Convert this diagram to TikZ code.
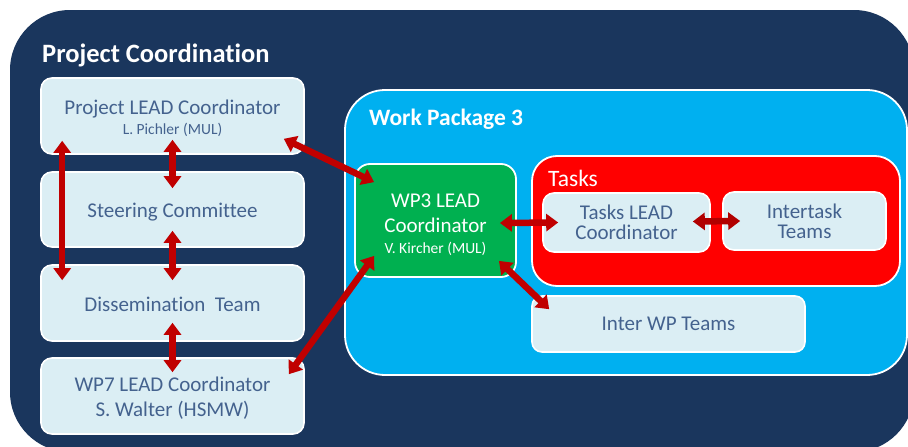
\documentclass[tikz,border=0pt]{standalone}
\usepackage{fontspec}
\setmainfont{Carlito}[Ligatures=NoCommon]
\usetikzlibrary{arrows.meta}
\definecolor{navy}{HTML}{1A365D}
\definecolor{wpblue}{HTML}{00B0F0}
\definecolor{grn}{HTML}{00B050}
\definecolor{lbox}{HTML}{DBEEF4}
\definecolor{btxt}{HTML}{44628E}
\definecolor{arr}{HTML}{C00000}
\tikzset{
  lightbox/.style={draw=white, line width=1.6pt, fill=lbox, rounded corners=11pt, text=btxt, align=center, inner sep=0pt},
  bigtxt/.style={font=\fontsize{21}{23}\selectfont},
  biarrow/.style={draw=arr, line width=6.5pt, {Triangle[width=17pt,length=12pt]}-{Triangle[width=17pt,length=12pt]}},
}
\begin{document}
\begin{tikzpicture}[x=1pt,y=-1pt]
\useasboundingbox (0,0) rectangle (908,447);
\begin{scope}
\clip (0,0) rectangle (908,447);
\fill[white] (0,0) rectangle (908,447);
\fill[navy, rounded corners=60pt] (10,10) rectangle (914,452);
\end{scope}
\node[anchor=base west, inner sep=0pt, text=white, font=\fontsize{26.5}{30}\selectfont\bfseries] (pctitle) at (42,62) {Project Coordination};

% left column
\node[lightbox, minimum width=263pt, minimum height=76pt, bigtxt] (plc) at (172.5,116)
  {\rule{0pt}{19.5pt}Project LEAD Coordinator\\[-3pt]{\fontsize{15.5}{17}\selectfont L. Pichler (MUL)}};
\node[lightbox, minimum width=263pt, minimum height=75pt, bigtxt] (sc) at (172.5,209.5) {\rule{0pt}{19pt}Steering Committee};
\node[lightbox, minimum width=263pt, minimum height=76pt, bigtxt] (dt) at (172.5,303) {\rule{0pt}{18pt}Dissemination\ \ Team};
\node[lightbox, minimum width=263pt, minimum height=76pt, font=\fontsize{21}{25}\selectfont] (wp7) at (172.5,396)
  {\rule{0pt}{18pt}WP7 LEAD Coordinator\\S. Walter (HSMW)};

% work package 3
\node[draw=white, line width=1.8pt, fill=wpblue, rounded corners=40pt, minimum width=562pt, minimum height=285pt, inner sep=0pt] (wp3) at (626,232.5) {};
\node[anchor=base west, inner sep=0pt, text=white, font=\fontsize{23.5}{27}\selectfont\bfseries] (wp3title) at (369,125) {Work Package 3};

\node[draw=white, line width=1.8pt, fill=grn, rounded corners=15pt, minimum width=161pt, minimum height=113pt, inner sep=0pt, text=white, align=center, font=\fontsize{21}{25}\selectfont] (green) at (435.5,220.5)
  {\rule{0pt}{22pt}WP3 LEAD\\Coordinator\\[-4pt]{\fontsize{15.5}{17}\selectfont V. Kircher (MUL)}};

\node[draw=white, line width=1.8pt, fill=red, rounded corners=25pt, minimum width=368pt, minimum height=130pt, inner sep=0pt] (tasks) at (716,221) {};
\node[anchor=base west, inner sep=0pt, text=white, font=\fontsize{23.5}{27}\selectfont] (taskstitle) at (548,186) {Tasks};

\node[lightbox, minimum width=167pt, minimum height=59pt, font=\fontsize{21}{20}\selectfont] (tl) at (626.5,222.5) {Tasks LEAD\\Coordinator};
\node[lightbox, minimum width=163pt, minimum height=58pt, font=\fontsize{21}{20}\selectfont] (it) at (804.5,221) {Intertask\\Teams};
\node[lightbox, rounded corners=10pt, minimum width=273pt, minimum height=56pt, bigtxt] (iwp) at (668.5,324) {Inter WP Teams};

% arrows
\draw[biarrow] ([shift={(22pt,14pt)}]plc.south west) -- ([shift={(22pt,-16pt)}]dt.north west);
\draw[biarrow] ([yshift=15pt]plc.south) -- ([yshift=-17pt]sc.north);
\draw[biarrow] ([yshift=17pt]sc.south) -- ([yshift=-16pt]dt.north);
\draw[biarrow] ([yshift=19pt]dt.south) -- ([yshift=-15pt]wp7.north);
\draw[biarrow] ([shift={(-21pt,16pt)}]plc.south east) -- ([shift={(20pt,-19pt)}]green.north west);
\draw[biarrow] ([shift={(-16pt,-17pt)}]wp7.north east) -- ([shift={(20pt,22pt)}]green.south west);
\draw[biarrow] ([shift={(-17pt,-2.5pt)}]green.east) -- ([xshift=16pt]tl.west);
\draw[biarrow, draw=arr!92!black] ([xshift=-18pt,yshift=1pt]tl.east) -- ([xshift=18pt,yshift=0pt]it.west);
\draw[biarrow] ([shift={(-18pt,17pt)}]green.south east) -- ([shift={(18pt,-14pt)}]iwp.north west);
\end{tikzpicture}
\end{document}
